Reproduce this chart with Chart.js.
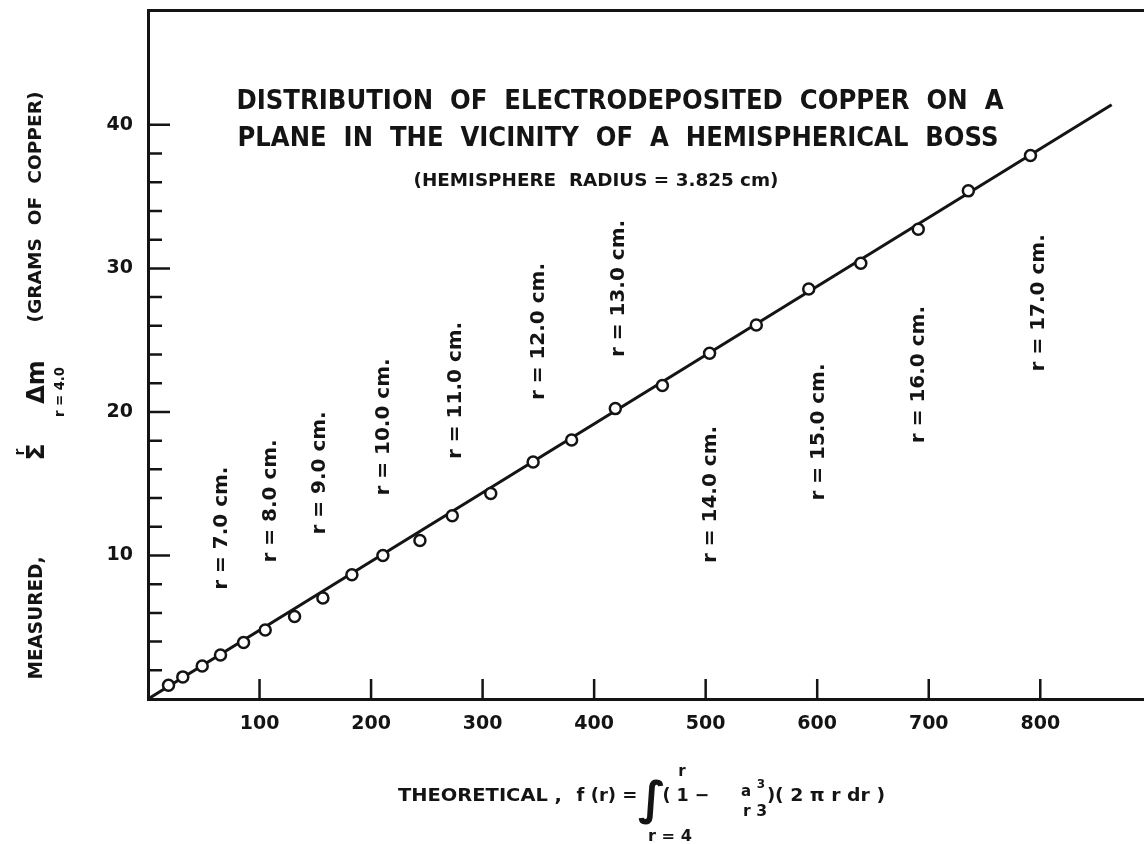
<!DOCTYPE html>
<html>
<head>
<meta charset="utf-8">
<title>Distribution of electrodeposited copper</title>
<script src="https://cdn.jsdelivr.net/npm/chart.js@4.4.1/dist/chart.umd.min.js"></script>
<style>
  html, body { margin: 0; padding: 0; background: #fff; overflow: hidden; width: 1144px; height: 844px; }
  #wrap { width: 1152px; height: 844px; position: relative; }
</style>
</head>
<body>
<div id="wrap"><canvas id="chart"></canvas></div>
<script>
// theoretical f(r) against measured copper, one point per ring
const theoretical = [18.4, 31.2, 48.6, 65.0, 85.7, 105.1, 131.4, 156.8, 182.8, 210.6, 243.8, 272.8,
  307.3, 345.3, 379.8, 419.0, 461.2, 503.5, 545.4, 592.4, 639.1, 690.6, 735.5, 791.2];
const measured = [0.96, 1.54, 2.30, 3.07, 3.93, 4.80, 5.75, 7.03, 8.66, 9.99, 11.04, 12.77,
  14.32, 16.51, 18.04, 20.23, 21.84, 24.08, 26.05, 28.57, 30.36, 32.73, 35.40, 37.86];

// the straight line drawn through the points
const fitX = [0, 864];
const fitY = [0, 41.4];

const xTickValues = [100, 200, 300, 400, 500, 600, 700, 800];
const yTickValues = [10, 20, 30, 40];
const yMinorTickValues = [2, 4, 6, 8, 12, 14, 16, 18, 22, 24, 26, 28, 32, 34, 36, 38];

// radius notes written beside the line (anchored in data units)
const ringLabels = ['r = 7.0 cm.', 'r = 8.0 cm.', 'r = 9.0 cm.', 'r = 10.0 cm.', 'r = 11.0 cm.',
  'r = 12.0 cm.', 'r = 13.0 cm.', 'r = 14.0 cm.', 'r = 15.0 cm.', 'r = 16.0 cm.', 'r = 17.0 cm.'];
const ringLabelX = [64, 108, 152, 210, 274, 349, 420, 503, 600, 689, 797];
const ringLabelY = [11.9, 13.8, 15.75, 18.95, 21.5, 25.6, 28.6, 14.25, 18.6, 22.6, 27.6];

const ink = '#141414';
const face = 'DejaVu Sans';

function txt(ctx, str, x, y, size, width, rot) {
  ctx.save();
  ctx.translate(x, y);
  if (rot) ctx.rotate(rot);
  ctx.font = `bold ${size}px "${face}"`;
  if (width) ctx.scale(width / ctx.measureText(str).width, 1);
  ctx.textAlign = 'center';
  ctx.textBaseline = 'alphabetic';
  ctx.fillStyle = ink;
  ctx.fillText(str, 0, size * 0.36);
  ctx.restore();
}

const up = -Math.PI / 2;

const decorations = {
  id: 'decorations',
  afterDraw(chart) {
    const { ctx, chartArea: a, scales: { x, y } } = chart;

    // tick marks point into the plot
    ctx.save();
    ctx.strokeStyle = ink;
    ctx.lineWidth = 2.5;
    ctx.beginPath();
    yTickValues.forEach(v => {
      const p = y.getPixelForValue(v);
      ctx.moveTo(a.left, p); ctx.lineTo(a.left + 22, p);
    });
    yMinorTickValues.forEach(v => {
      const p = y.getPixelForValue(v);
      ctx.moveTo(a.left, p); ctx.lineTo(a.left + 14, p);
    });
    xTickValues.forEach(v => {
      const p = x.getPixelForValue(v);
      ctx.moveTo(p, a.bottom); ctx.lineTo(p, a.bottom - 20);
    });
    ctx.stroke();
    ctx.restore();

    // radius notes
    ringLabels.forEach((s, i) => {
      txt(ctx, s, x.getPixelForValue(ringLabelX[i]), y.getPixelForValue(ringLabelY[i]), 20, 0, up);
    });

    // title block
    txt(ctx, 'DISTRIBUTION  OF  ELECTRODEPOSITED  COPPER  ON  A', 620, 100, 26, 767);
    txt(ctx, 'PLANE  IN  THE  VICINITY  OF  A  HEMISPHERICAL  BOSS', 618, 137, 26, 761);
    txt(ctx, '(HEMISPHERE  RADIUS = 3.825 cm)', 596, 180, 18, 365);

    // y axis title
    txt(ctx, 'MEASURED,', 35, 618, 19, 123, up);
    txt(ctx, 'Σ', 35, 452, 25, 0, up);
    txt(ctx, 'Δm', 35, 382, 24, 0, up);
    txt(ctx, 'r', 19, 452, 14, 0, up);
    txt(ctx, 'r = 4.0', 59, 392, 14, 50, up);
    txt(ctx, '(GRAMS  OF  COPPER)', 35, 207, 18, 231, up);

    // x axis title
    txt(ctx, 'THEORETICAL ,', 480, 795, 18, 164);
    txt(ctx, 'f (r) =', 607, 795, 18, 61);
    txt(ctx, '∫', 652, 797, 46, 0);
    txt(ctx, 'r', 682, 771, 15, 0);
    txt(ctx, 'r = 4', 670, 836, 15, 44);
    txt(ctx, '( 1 −', 686, 795, 18, 47);
    txt(ctx, 'a', 746, 791, 15, 0);
    txt(ctx, '3', 761, 784, 12, 0);
    txt(ctx, 'r 3', 755, 811, 15, 24);
    txt(ctx, ')', 771, 795, 18, 0);
    txt(ctx, '( 2 π r dr )', 830, 795, 17, 110);
  }
};

const pts = theoretical.map((v, i) => ({ x: v, y: measured[i] }));
const fit = fitX.map((v, i) => ({ x: v, y: fitY[i] }));

const tickFont = { family: face, size: 19, weight: 'bold' };

function noPad(s) {
  s.paddingTop = 0; s.paddingBottom = 0; s.paddingLeft = 0; s.paddingRight = 0;
}

new Chart(document.getElementById('chart'), {
  type: 'scatter',
  data: {
    datasets: [
      {
        data: pts,
        pointRadius: 5.5,
        pointBorderWidth: 2.5,
        pointBackgroundColor: '#fff',
        pointBorderColor: ink,
        showLine: false
      },
      {
        data: fit,
        showLine: true,
        borderColor: ink,
        borderWidth: 3,
        pointRadius: 0
      }
    ]
  },
  options: {
    responsive: true,
    maintainAspectRatio: false,
    animation: false,
    layout: { padding: 0 },
    plugins: { legend: { display: false }, tooltip: { enabled: false } },
    scales: {
      x: {
        type: 'linear', position: 'bottom', min: 0, max: 893,
        grid: { display: false, drawTicks: false },
        border: { display: true, color: ink, width: 3 },
        afterBuildTicks: s => { s.ticks = xTickValues.map(v => ({ value: v })); },
        afterFit: s => { s.height = 145; noPad(s); },
        ticks: { color: ink, font: tickFont, padding: 14, maxRotation: 0, autoSkip: false }
      },
      top: {
        type: 'linear', axis: 'x', position: 'top', min: 0, max: 893,
        grid: { display: false, drawTicks: false },
        border: { display: true, color: ink, width: 3 },
        ticks: { display: false },
        afterFit: s => { s.height = 10; noPad(s); }
      },
      y: {
        type: 'linear', position: 'left', min: 0, max: 48,
        grid: { display: false, drawTicks: false },
        border: { display: true, color: ink, width: 3 },
        afterBuildTicks: s => { s.ticks = yTickValues.map(v => ({ value: v })); },
        afterFit: s => { s.width = 148; noPad(s); },
        ticks: { color: ink, font: tickFont, padding: 15 }
      }
    }
  },
  plugins: [decorations]
});
</script>
</body>
</html>
